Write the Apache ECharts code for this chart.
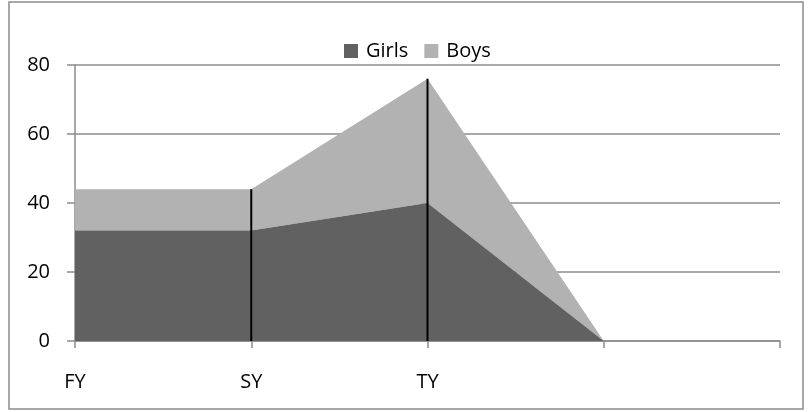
<!DOCTYPE html>
<html>
<head>
<meta charset="utf-8">
<script src="https://cdn.jsdelivr.net/npm/echarts@6/dist/echarts.min.js"></script>
<style>
  html, body { margin: 0; padding: 0; background: #fff; }
  #chart { width: 811px; height: 412px; }
</style>
</head>
<body>
<div id="chart"></div>
<script>
// data
var categories = ['FY', 'SY', 'TY', '', ''];
var girls = [32, 32, 40, 0, null];
var boys = [12, 12, 36, 0, null];
var yTicks = [0, 20, 40, 60, 80];
// drop lines only where they show in the picture (SY, TY)
var dropAt = ['SY', 'TY'];

var totals = girls.map(function (g, i) {
  return g == null ? null : g + boys[i];
});
var drops = categories.map(function (c, i) {
  return dropAt.indexOf(c) >= 0 ? totals[i] : null;
});

var chart = echarts.init(document.getElementById('chart'));
var font = '"Open Sans", "DejaVu Sans", sans-serif';
var option = {
  animation: false,
  textStyle: { fontFamily: font },
  color: ['#616161', '#b2b2b2'],
  graphic: [{
    type: 'rect',
    shape: { x: 9, y: 2, width: 794, height: 407 },
    style: { fill: 'none', stroke: '#8c8c8c', lineWidth: 1.5 },
    silent: true
  }],
  legend: {
    data: ['Girls', 'Boys'],
    top: 36,
    left: 339,
    itemWidth: 14,
    itemHeight: 14,
    itemGap: 16,
    icon: 'rect',
    textStyle: { fontSize: 20, color: '#000', fontFamily: font, padding: [0, 0, 0, 3] }
  },
  grid: { left: 75, right: 31, top: 65, bottom: 71 },
  xAxis: {
    type: 'category',
    data: categories,
    boundaryGap: false,
    axisLine: { lineStyle: { color: '#8c8c8c', width: 1.5 } },
    axisTick: { show: true, length: 7, lineStyle: { color: '#8c8c8c', width: 1.5 } },
    axisLabel: { color: '#000', fontSize: 20, margin: 31, fontFamily: font, interval: 0 },
    splitLine: { show: false }
  },
  yAxis: {
    type: 'value',
    min: yTicks[0],
    max: yTicks[yTicks.length - 1],
    interval: 20,
    axisLine: { show: true, lineStyle: { color: '#8c8c8c', width: 1.5 } },
    axisTick: { show: true, length: 8, lineStyle: { color: '#8c8c8c', width: 1.5 } },
    axisLabel: { color: '#000', fontSize: 20, margin: 25, fontFamily: font },
    splitLine: { lineStyle: { color: '#8c8c8c', width: 1.5 } }
  },
  series: [
    {
      name: 'Girls',
      type: 'line',
      stack: 'total',
      data: girls,
      symbol: 'none',
      lineStyle: { width: 0 },
      areaStyle: { color: '#616161', opacity: 1 },
      z: 2
    },
    {
      name: 'Boys',
      type: 'line',
      stack: 'total',
      data: boys,
      symbol: 'none',
      lineStyle: { width: 0 },
      areaStyle: { color: '#b2b2b2', opacity: 1 },
      z: 1
    },
    {
      name: 'drop',
      type: 'bar',
      data: drops,
      barWidth: 2,
      barGap: '-100%',
      itemStyle: { color: '#000' },
      z: 5,
      silent: true
    }
  ]
};
chart.setOption(option);
</script>
</body>
</html>
